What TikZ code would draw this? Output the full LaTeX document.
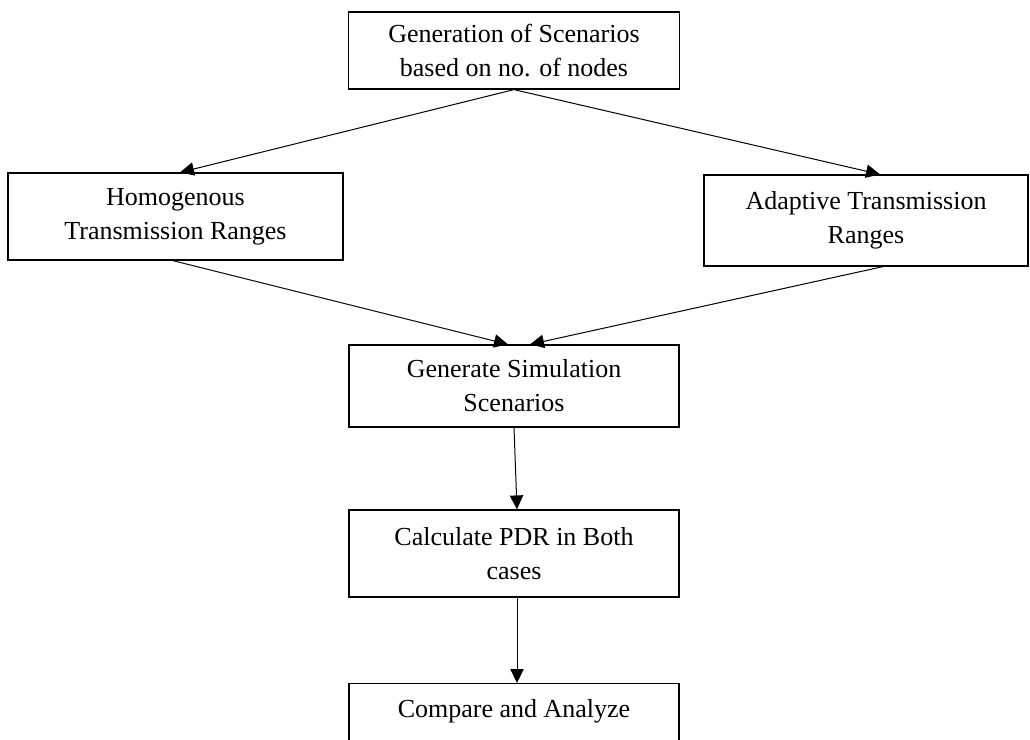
\documentclass[tikz,border=0pt]{standalone}
\usepackage{fontspec}
\setmainfont{Liberation Serif}
\usetikzlibrary{arrows.meta}

\tikzset{
  box/.style={draw, line width=0.9pt, align=center, inner sep=0pt,
    font=\fontsize{19.5}{25.5}\selectfont},
  arr/.style={line width=0.75pt, -{Triangle[length=10.5pt,width=10pt]}}
}

\begin{document}
\begin{tikzpicture}[x=0.75pt,y=0.75pt,yscale=-1,xscale=1]
    \useasboundingbox (0,0) rectangle (1030,739);
    \clip (0,0) rectangle (1030,739);

    % Boxes
    \node[box, minimum width=248.25pt, minimum height=57.75pt] (gen) at (514,50.5) {Generation of Scenarios\\based on no. of nodes};
    \node[box, minimum width=251.25pt, minimum height=65.25pt] (homog) at (175.5,216.5) {Homogenous\\Transmission Ranges};
    \node[box, minimum width=243pt, minimum height=68.25pt] (adapt) at (866,220.5) {Adaptive Transmission\\Ranges};
    \node[box, minimum width=247.5pt, minimum height=61.5pt] (sim) at (514,386) {Generate Simulation\\Scenarios};
    \node[box, minimum width=247.5pt, minimum height=65.25pt] (pdr) at (514,553.5) {Calculate PDR in Both\\cases};
    \node[box, minimum width=247.5pt, anchor=north, inner ysep=12pt, text depth=60pt] (cmp) at (514,683) {Compare and Analyze};

    % Arrows
    \draw[arr] (gen.south) -- ([xshift=3.4pt]homog.north);
    \draw[arr] (gen.south) -- ([xshift=10.5pt]adapt.north);
    \draw[arr] ([xshift=-2pt]homog.south) -- ([xshift=-4.5pt]sim.north);
    \draw[arr] ([xshift=12.75pt]adapt.south) -- ([xshift=12pt]sim.north);
    \draw[arr] (sim.south) -- ([xshift=2.25pt]pdr.north);
    \draw[arr] ([xshift=2.25pt]pdr.south) -- ([xshift=2.25pt]cmp.north);

\end{tikzpicture}
\end{document}
